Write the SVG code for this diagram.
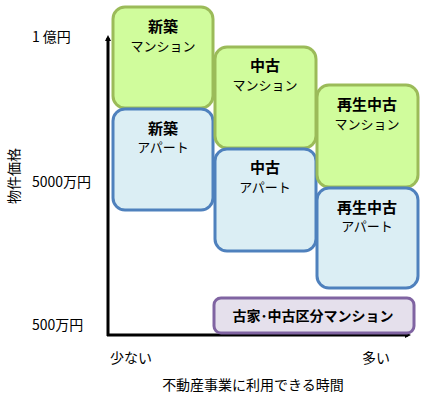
<svg xmlns="http://www.w3.org/2000/svg" width="427" height="400" viewBox="0 0 427 400">
<defs>
<style>
text{font-family:"Noto Sans CJK JP","Liberation Sans",sans-serif;fill:#000}
.g{fill:#D0FC9C;stroke:#9BBB59;stroke-width:3}
.b{fill:#DBEEF4;stroke:#4F81BD;stroke-width:3}
.p{fill:#E5E0EC;stroke:#8064A2;stroke-width:3}
.t{font-size:15px;font-weight:bold;text-anchor:middle}
.s{font-size:13px;text-anchor:middle}
.l{font-size:14px}
.ax{stroke:#000;stroke-width:3;fill:none}
</style>
<marker id="ah" markerWidth="6" markerHeight="6" refX="3" refY="3" orient="auto" markerUnits="userSpaceOnUse" viewBox="0 0 6 6">
<path d="M0,0 L6,3 L0,6 z" fill="#000"/>
</marker>
</defs>
<g id="connectors">
<line class="ax" x1="108" y1="336" x2="108" y2="38" marker-end="url(#ah)"/>
<line class="ax" x1="107" y1="335" x2="408" y2="335" marker-end="url(#ah)"/>
</g>
<g id="new-mansion"><rect class="g" x="113" y="7" width="100" height="101" rx="12"/><text class="t" x="163" y="32">新築</text><text class="s" x="163" y="51">マンション</text></g>
<g id="new-apart"><rect class="b" x="113" y="109" width="100" height="101" rx="12"/><text class="t" x="163" y="134">新築</text><text class="s" x="163" y="152">アパート</text></g>
<g id="used-mansion"><rect class="g" x="215" y="47" width="101" height="101" rx="12"/><text class="t" x="265" y="71">中古</text><text class="s" x="265" y="90">マンション</text></g>
<g id="used-apart"><rect class="b" x="215" y="149" width="101" height="102" rx="12"/><text class="t" x="265" y="173">中古</text><text class="s" x="265" y="192">アパート</text></g>
<g id="renew-mansion"><rect class="g" x="317" y="85" width="101" height="102" rx="12"/><text class="t" x="367" y="110">再生中古</text><text class="s" x="367" y="129">マンション</text></g>
<g id="renew-apart"><rect class="b" x="317" y="188" width="101" height="100" rx="12"/><text class="t" x="367" y="213">再生中古</text><text class="s" x="367" y="231">アパート</text></g>
<g id="old-house"><rect class="p" x="214" y="298" width="200" height="35" rx="7"/><text class="t" x="313" y="321" style="font-size:14px">古家･中古区分マンション</text></g>
<g id="labels">
<text class="l" x="32" y="42">1<tspan dx="3">億円</tspan></text>
<text class="l" x="32" y="187">5000万円</text>
<text class="l" x="32" y="330">500万円</text>
<text class="l" x="110" y="363">少ない</text>
<text class="l" x="362" y="363">多い</text>
<text class="l" x="253" y="390" text-anchor="middle">不動産事業に利用できる時間</text>
<text class="l" x="0" y="0" text-anchor="middle" transform="translate(19,176) rotate(-90)">物件価格</text>
</g>
</svg>
